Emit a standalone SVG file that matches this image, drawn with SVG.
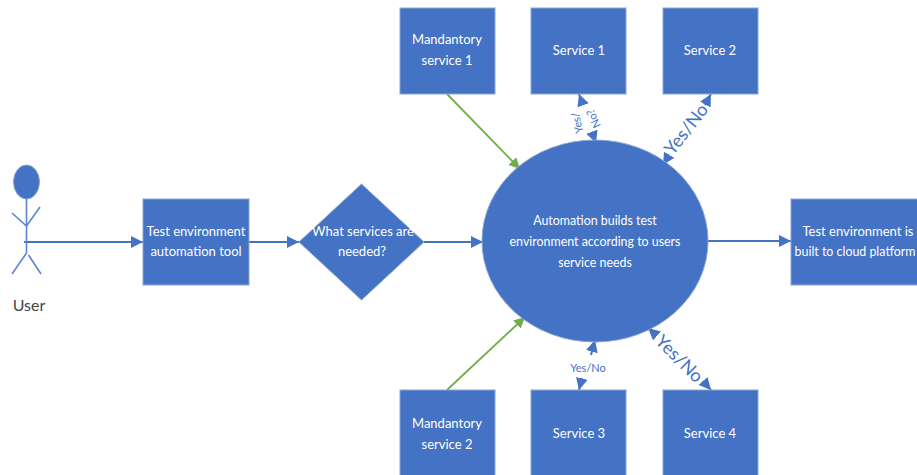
<svg xmlns="http://www.w3.org/2000/svg" width="917" height="475" viewBox="0 0 917 475">
<defs>
<marker id="a" markerUnits="userSpaceOnUse" markerWidth="14" markerHeight="14" refX="12" refY="6" orient="auto-start-reverse"><path d="M0 0L12 6L0 12Z" fill="#4472c4"/></marker>
<marker id="g" markerUnits="userSpaceOnUse" markerWidth="14" markerHeight="14" refX="11" refY="5.5" orient="auto"><path d="M0 0L11 5.5L0 11Z" fill="#70ad47"/></marker>
</defs>
<style>
.s{fill:#4472c4;stroke:#8aa5d6;stroke-width:1}
.t{font-family:Lato,"Liberation Sans",sans-serif;font-size:13px;fill:#fff;text-anchor:middle}
.n{font-size:12.400px}
.c{fill:none;stroke:#4472c4;stroke-width:2}
.gc{fill:none;stroke:#70ad47;stroke-width:1.8}
.l{font-family:Lato,"Liberation Sans",sans-serif;fill:#4472c4;text-anchor:middle}
.u{fill:none;stroke:#5b86cf;stroke-width:1.6}
</style>
<rect width="917" height="475" fill="#fff"/>
<g id="connectors">
<path class="c" d="M24 242H143" marker-end="url(#a)"/>
<path class="c" d="M249 242H299" marker-end="url(#a)"/>
<path class="c" d="M424 242H483" marker-end="url(#a)"/>
<path class="c" d="M708 241H791" marker-end="url(#a)"/>
<path class="gc" d="M447 94L520 169" marker-end="url(#g)"/>
<path class="gc" d="M447 390L525 317" marker-end="url(#g)"/>
<path class="c" d="M579 94L583 105M592 132L596 143" stroke-width="1.500" marker-start="url(#a)" marker-end="url(#a)"/>
<path class="c" d="M711 94L705 105M669 155L663 165" marker-start="url(#a)" marker-end="url(#a)"/>
<path class="c" d="M579 390L582 378M591 355L595 340" marker-start="url(#a)" marker-end="url(#a)"/>
<path class="c" d="M648 328L656 335M703 381L711 390" marker-start="url(#a)" marker-end="url(#a)"/>
<text class="l" font-size="11" transform="translate(581 122) rotate(-103)">Yes/</text>
<text class="l" font-size="11" transform="translate(597 117) rotate(-115)">No?</text>
<text class="l" font-size="18" transform="translate(691 133) rotate(-52)">Yes/No</text>
<text class="l" font-size="11" x="588" y="372">Yes/No</text>
<text class="l" font-size="18" transform="translate(675 363) rotate(45)">Yes/No</text>
</g>
<g id="user">
<ellipse cx="26.500" cy="182" rx="13" ry="17" fill="#4472c4" stroke="#8aa5d6"/>
<path class="u" d="M26.500 198V253M12 213L26.500 226L40 207M26.500 253L12 274M28.500 255L41 274"/>
<text x="29" y="311" font-family="Lato,'Liberation Sans',sans-serif" font-size="16" fill="#444" text-anchor="middle">User</text>
</g>
<g id="tool"><rect class="s" x="143" y="199" width="106" height="86"/><text class="t" x="196" y="236">Test environment</text><text class="t" x="196" y="256">automation tool</text></g>
<g id="decision"><path class="s" d="M361.500 184L424 242L361.500 300L299 242Z"/><text class="t" x="363" y="236">What services are</text><text class="t" x="362" y="256">needed?</text></g>
<g id="automation"><ellipse class="s" cx="595" cy="241" rx="113" ry="101"/><text class="t n" x="595" y="225">Automation builds test</text><text class="t n" x="595" y="246">environment according to users</text><text class="t n" x="595" y="267">service needs</text></g>
<g id="result"><rect class="s" x="791" y="199" width="130" height="86"/><text class="t" x="858" y="236">Test environment is</text><text class="t n" x="855" y="256">built to cloud platform</text></g>
<g id="mandatory1"><rect class="s" x="400" y="8" width="95" height="86"/><text class="t" x="447" y="44">Mandantory</text><text class="t" x="447" y="65">service 1</text></g>
<g id="service1"><rect class="s" x="531" y="8" width="95" height="86"/><text class="t" x="579" y="55">Service 1</text></g>
<g id="service2"><rect class="s" x="663" y="8" width="95" height="86"/><text class="t" x="710" y="55">Service 2</text></g>
<g id="mandatory2"><rect class="s" x="400" y="390" width="95" height="86"/><text class="t" x="447" y="428">Mandantory</text><text class="t" x="447" y="449">service 2</text></g>
<g id="service3"><rect class="s" x="531" y="390" width="95" height="86"/><text class="t" x="579" y="438">Service 3</text></g>
<g id="service4"><rect class="s" x="663" y="390" width="95" height="86"/><text class="t" x="710" y="438">Service 4</text></g>
</svg>
